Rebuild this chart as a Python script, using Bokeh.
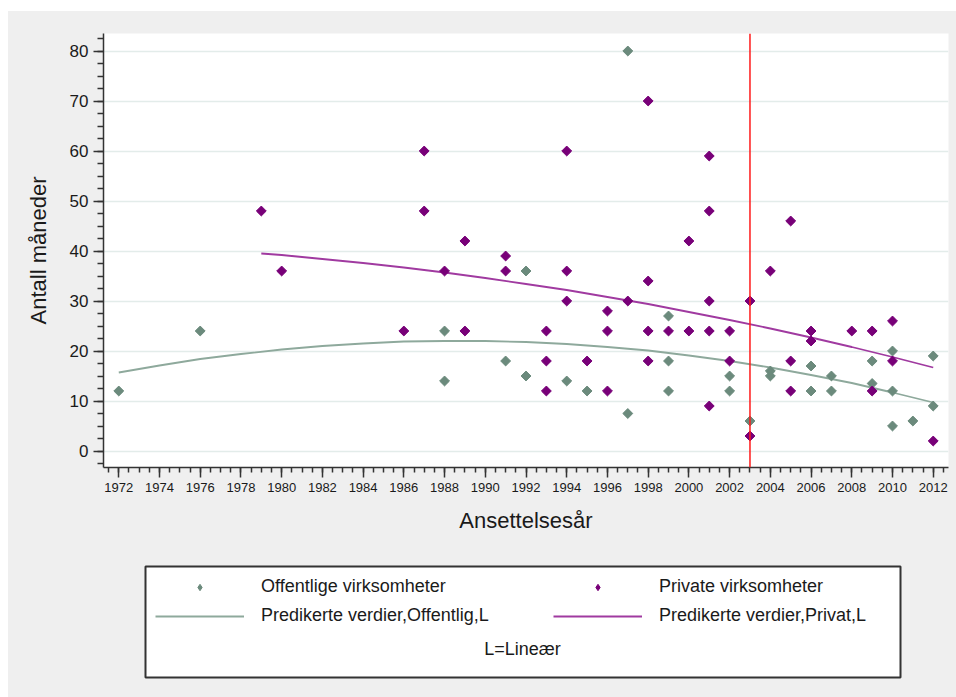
import math

from bokeh.plotting import figure
from bokeh.models import (Span, Legend, LegendItem, Label,
                          SingleIntervalTicker, Spacer)
from bokeh.layouts import column, row
from bokeh.embed import file_html
from bokeh.resources import INLINE

# --- data --------------------------------------------------------------
# Public companies (Offentlige virksomheter): hire year and months
off_year = [1972, 1976, 1988, 1988, 1991, 1992, 1992, 1994, 1995, 1997, 1997,
            1999, 1999, 1999, 2002, 2002, 2003, 2004, 2004, 2006, 2006, 2007,
            2007, 2009, 2009, 2010, 2010, 2010, 2011, 2012, 2012]
off_months = [12, 24, 24, 14, 18, 36, 15, 14, 12, 80, 7.5,
              27, 18, 12, 15, 12, 6, 16, 15, 17, 12, 15,
              12, 18, 13.5, 20, 12, 5, 6, 19, 9]

# Private companies (Private virksomheter)
priv_year = [1979, 1980, 1986, 1987, 1987, 1988, 1989, 1989, 1991, 1991,
             1993, 1993, 1993, 1994, 1994, 1994, 1995, 1996, 1996, 1996,
             1997, 1998, 1998, 1998, 1998, 1999, 2000, 2000, 2001, 2001,
             2001, 2001, 2001, 2002, 2002, 2003, 2003, 2004, 2005, 2005,
             2005, 2006, 2006, 2008, 2009, 2009, 2010, 2010, 2012]
priv_months = [48, 36, 24, 60, 48, 36, 42, 24, 39, 36,
               24, 18, 12, 60, 36, 30, 18, 28, 24, 12,
               30, 70, 34, 24, 18, 24, 42, 24, 59, 48,
               30, 24, 9, 24, 18, 30, 3, 36, 46, 18,
               12, 24, 22, 24, 24, 12, 26, 18, 2]

# Predicted values from the fitted models
fit_off_year = [1972, 1974, 1976, 1978, 1980, 1982, 1984, 1986, 1988, 1990,
                1992, 1994, 1996, 1998, 2000, 2002, 2004, 2006, 2008, 2010, 2012]
fit_off = [15.7, 17.1, 18.4, 19.4, 20.3, 21.0, 21.5, 21.9, 22.0, 22.0,
           21.8, 21.4, 20.8, 20.1, 19.1, 18.0, 16.7, 15.2, 13.6, 11.7, 9.7]

fit_priv_year = [1979, 1980, 1982, 1984, 1986, 1988, 1990, 1992, 1994,
                 1996, 1998, 2000, 2002, 2004, 2006, 2008, 2010, 2012]
fit_priv = [39.5, 39.2, 38.4, 37.6, 36.7, 35.7, 34.6, 33.4, 32.2,
            30.8, 29.4, 27.8, 26.2, 24.5, 22.7, 20.8, 18.8, 16.7]

cutoff_year = 2003

legend_labels = ["Offentlige virksomheter", "Predikerte verdier,Offentlig,L",
                 "Private virksomheter", "Predikerte verdier,Privat,L"]
legend_note = "L=Lineær"

# --- styling -----------------------------------------------------------
FONT = "Liberation Sans"
TEXT = "#1a1a1a"
BG = "#efefef"
OFF_MARK = "#6b8a7c"
OFF_LINE = "#8ea99c"
PRIV_MARK = "#780078"
PRIV_LINE = "#a03aa0"

PLOT_MARK = dict(marker="square", angle=math.pi / 4, size=7)
KEY_MARK = dict(marker="diamond", size=9)


def draw_series(fig, mark, visible=True):
    """Fitted curves and observations for both groups."""
    l_off = fig.line(fit_off_year, fit_off, line_color=OFF_LINE,
                     line_width=1.8, visible=visible)
    l_priv = fig.line(fit_priv_year, fit_priv, line_color=PRIV_LINE,
                      line_width=1.8, visible=visible)
    s_off = fig.scatter(off_year, off_months, fill_color=OFF_MARK,
                        line_color=OFF_MARK, visible=visible, **mark)
    s_priv = fig.scatter(priv_year, priv_months, fill_color=PRIV_MARK,
                         line_color=PRIV_MARK, visible=visible, **mark)
    return s_off, l_off, s_priv, l_priv


# --- main scatter panel -----------------------------------------------
p = figure(width=948, height=544,
           x_range=(1971.25, 2012.75), y_range=(-3.3, 83.5),
           output_backend="svg", toolbar_location=None,
           min_border_left=95, min_border_right=8,
           min_border_top=22, min_border_bottom=88)
p.frame_align = False
p.background_fill_color = "white"
p.border_fill_color = BG
p.outline_line_color = None

p.xgrid.visible = False
p.ygrid.grid_line_color = "#e3ecea"
p.ygrid.grid_line_width = 1.5

p.xaxis.ticker = SingleIntervalTicker(interval=2, num_minor_ticks=4)
p.yaxis.ticker = SingleIntervalTicker(interval=10, num_minor_ticks=4)

for ax in (p.xaxis[0], p.yaxis[0]):
    ax.axis_line_color = "#333333"
    ax.axis_line_width = 1.5
    ax.major_tick_line_color = "#333333"
    ax.minor_tick_line_color = "#333333"
    ax.major_tick_line_width = 1.5
    ax.minor_tick_line_width = 1.5
    ax.major_tick_in = 0
    ax.minor_tick_in = 0
    ax.major_tick_out = 10
    ax.major_label_text_font = FONT
    ax.major_label_text_color = TEXT
    ax.axis_label_text_font = FONT
    ax.axis_label_text_color = TEXT
    ax.axis_label_text_font_style = "normal"
    ax.axis_label_text_font_size = "22px"

p.xaxis.minor_tick_out = 5
p.xaxis.major_label_text_font_size = "13px"
p.xaxis.major_label_standoff = 5
p.xaxis.axis_label = "Ansettelsesår"
p.xaxis.axis_label_standoff = 13

p.yaxis.minor_tick_out = 6
p.yaxis.major_label_text_font_size = "17px"
p.yaxis.major_label_standoff = 5
p.yaxis.axis_label = "Antall måneder"
p.yaxis.axis_label_standoff = 16

draw_series(p, PLOT_MARK)

p.add_layout(Span(location=cutoff_year, dimension="height",
                  line_color="#ff1a1a", line_width=1.5))

# --- key panel below the plot -----------------------------------------
# the frame of this panel is the key box; its ranges are in pixels
q = figure(width=948, height=142, x_range=(0, 755), y_range=(0, 111),
           x_axis_type=None, y_axis_type=None,
           output_backend="svg", toolbar_location=None,
           min_border_left=137, min_border_right=56,
           min_border_top=11, min_border_bottom=20)
q.frame_align = False
q.background_fill_color = "white"
q.border_fill_color = BG
q.outline_line_color = "#333333"
q.outline_line_width = 2
q.grid.visible = False

k_off, k_off_fit, k_priv, k_priv_fit = draw_series(q, KEY_MARK, visible=False)

legend = Legend(items=[
    LegendItem(label=legend_labels[0], renderers=[k_off]),
    LegendItem(label=legend_labels[1], renderers=[k_off_fit]),
    LegendItem(label=legend_labels[2], renderers=[k_priv]),
    LegendItem(label=legend_labels[3], renderers=[k_priv_fit]),
], location=(10, 51), ncols=2, orientation="vertical",
    border_line_alpha=0, background_fill_alpha=0, padding=0, margin=0,
    spacing=8, glyph_width=89, glyph_height=16, label_height=20,
    label_width=284, label_standoff=17,
    label_text_font=FONT, label_text_font_size="18px",
    label_text_color=TEXT)
q.add_layout(legend)

q.add_layout(Label(x=377, y=29, text=legend_note,
                   text_align="center", text_baseline="middle",
                   text_font=FONT, text_font_size="18px", text_color=TEXT))

panels = column(p, q, spacing=0, styles={"background-color": BG})
layout = column(Spacer(width=956, height=11),
                row(Spacer(width=8, height=686), panels))

open("out.html", "w").write(file_html(layout, INLINE))
